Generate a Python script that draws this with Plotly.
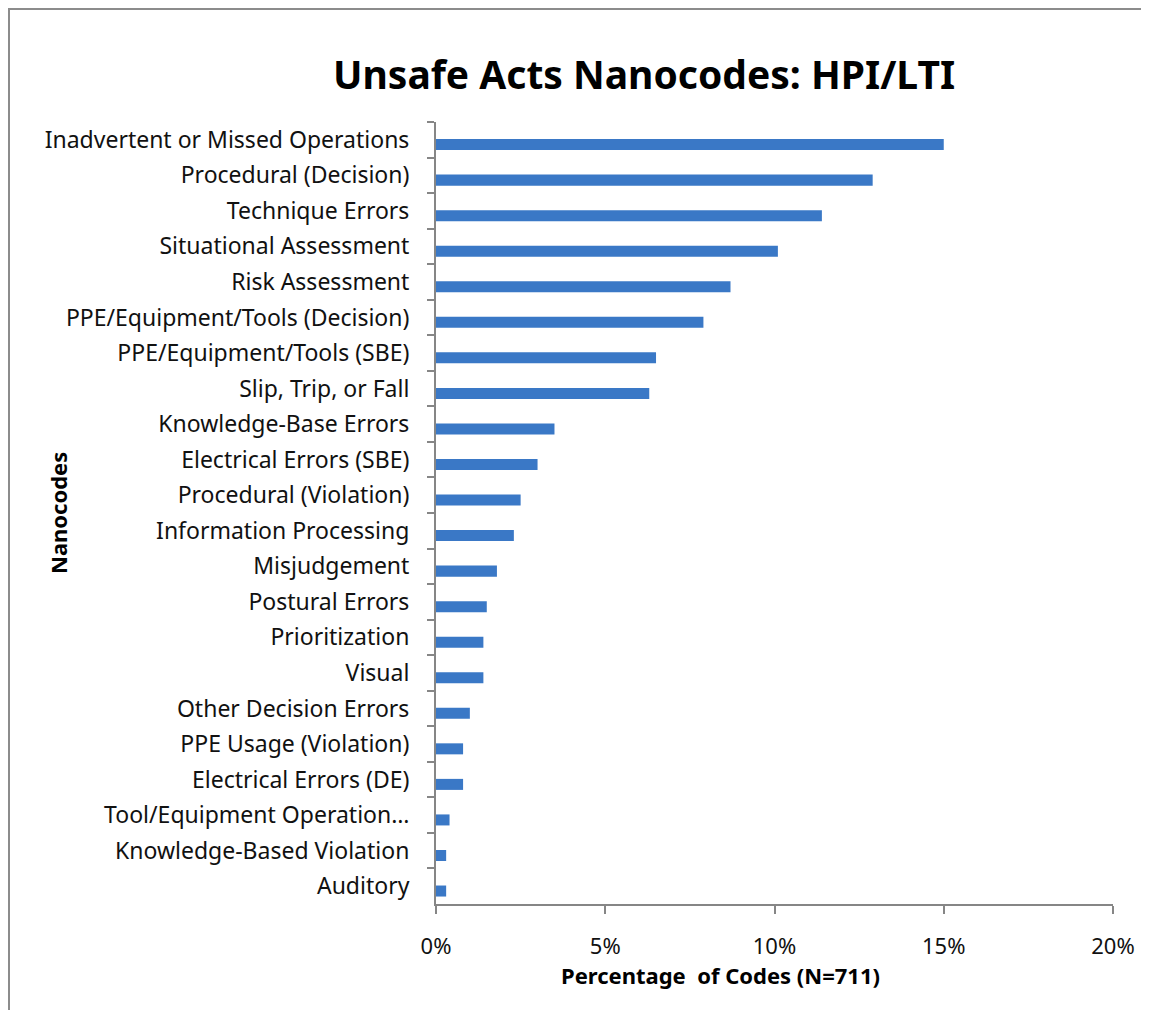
import plotly.graph_objects as go

categories = [
    "Inadvertent or Missed Operations",
    "Procedural (Decision)",
    "Technique Errors",
    "Situational Assessment",
    "Risk Assessment",
    "PPE/Equipment/Tools (Decision)",
    "PPE/Equipment/Tools (SBE)",
    "Slip, Trip, or Fall",
    "Knowledge-Base Errors",
    "Electrical Errors (SBE)",
    "Procedural (Violation)",
    "Information Processing",
    "Misjudgement",
    "Postural Errors",
    "Prioritization",
    "Visual",
    "Other Decision Errors",
    "PPE Usage (Violation)",
    "Electrical Errors (DE)",
    "Tool/Equipment Operation…",
    "Knowledge-Based Violation",
    "Auditory",
]
percentages = [15.0, 12.9, 11.4, 10.1, 8.7, 7.9, 6.5, 6.3, 3.5, 3.0, 2.5, 2.3,
               1.8, 1.5, 1.4, 1.4, 1.0, 0.8, 0.8, 0.4, 0.3, 0.3]
x_ticks = [0, 5, 10, 15, 20]
x_tick_labels = ["0%", "5%", "10%", "15%", "20%"]

font = "Noto Sans"
grey = "#868686"

# the page body adds an 8px margin, so the figure starts at (8, 8) on screen
W, H = 1149, 1010
off = 8
L, R, T, B = 436 - off, 44, 122 - off, 114
pw = W - L - R
ph = H - T - B


def to_paper(sx, sy):
    # screen pixel -> paper coordinates
    fx, fy = sx - off, sy - off
    return (fx - L) / pw, (H - B - fy) / ph


fig = go.Figure(go.Bar(
    x=percentages, y=categories, orientation="h",
    width=0.31, offset=-0.02,  # bars sit a little below the band centre
    marker=dict(color="#3a78c6", line=dict(width=0)),
))

fig.update_layout(
    width=W, height=H,
    margin=dict(l=L, r=R, t=T, b=B),
    paper_bgcolor="white", plot_bgcolor="white",
    showlegend=False,
    font=dict(family=font, size=23, color="#111111"),
)

fig.update_xaxes(
    range=[0, 20], tickvals=x_ticks, ticktext=x_tick_labels,
    showgrid=False, zeroline=False,
    showline=True, linecolor=grey, linewidth=2,
    ticks="outside", ticklen=8, tickcolor=grey, tickwidth=2,
    ticklabelstandoff=14, tickfont=dict(size=22),
)
fig.update_yaxes(
    autorange="reversed",
    showgrid=False, showline=True, linecolor=grey, linewidth=2,
    ticks="outside", ticklen=7, tickcolor=grey, tickwidth=2,
    tickson="boundaries", ticklabelstandoff=20,
)

tx, ty = to_paper(644, 73)
fig.add_annotation(text="<b>Unsafe Acts Nanocodes: HPI/LTI</b>", x=tx, y=ty,
                   xref="paper", yref="paper", showarrow=False,
                   xanchor="center", yanchor="middle",
                   font=dict(family=font, size=39, color="black"))
tx, ty = to_paper(720, 975)
fig.add_annotation(text="<b>Percentage  of Codes (N=711)</b>", x=tx, y=ty,
                   xref="paper", yref="paper", showarrow=False,
                   xanchor="center", yanchor="middle",
                   font=dict(family=font, size=22, color="black"))
tx, ty = to_paper(58, 513)
fig.add_annotation(text="<b>Nanocodes</b>", x=tx, y=ty,
                   xref="paper", yref="paper", showarrow=False, textangle=-90,
                   xanchor="center", yanchor="middle",
                   font=dict(family=font, size=22, color="black"))

x0, y0 = to_paper(9, 9)
x1, y1 = to_paper(1200, 1060)
fig.add_shape(type="rect", xref="paper", yref="paper",
              x0=x0, x1=x1, y0=y1, y1=y0,
              line=dict(color="#8c8c8c", width=2), layer="below")

fig.write_html("out.html")
